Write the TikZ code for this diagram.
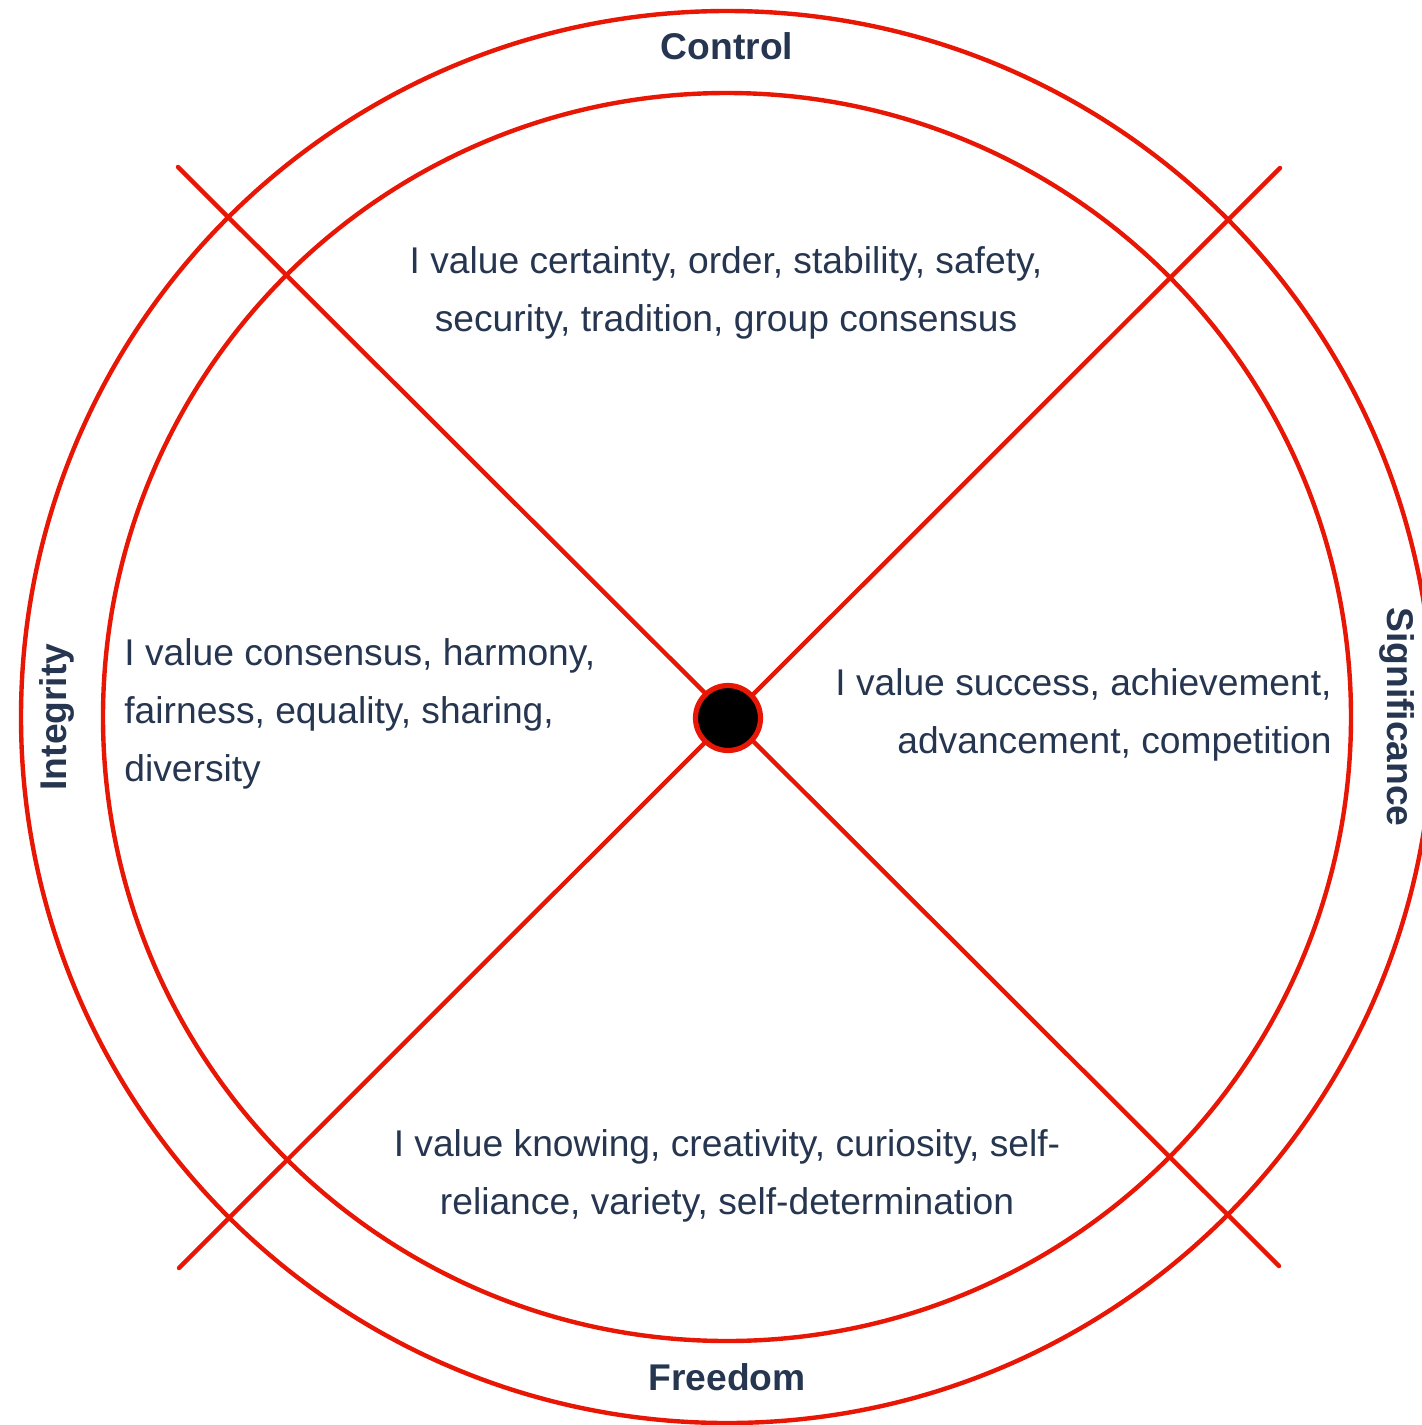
\documentclass[tikz,border=0pt]{standalone}
\usepackage{fontspec}
\setmainfont{Liberation Sans}
\definecolor{ring}{RGB}{232,22,4}
\definecolor{ink}{RGB}{38,54,80}
\begin{document}
\begin{tikzpicture}[x=0.5pt,y=-0.5pt,
  ringline/.style={draw=ring,line width=2.2pt},
  body/.style={text=ink,font=\fontsize{18.6}{29}\selectfont,inner sep=0pt},
  axislabel/.style={text=ink,font=\fontsize{18.6}{22}\selectfont\bfseries,inner sep=0pt}]
\useasboundingbox (0,0) rectangle (1421,1425);
\fill[white] (0,0) rectangle (1421,1425);
\coordinate (c) at (727,717);
\draw[ringline] (c) circle[radius=353pt];
\draw[ringline] (c) circle[radius=312pt];
\coordinate (a1) at (178,167);
\coordinate (a2) at (1279,1266);
\coordinate (b1) at (179,1268);
\coordinate (b2) at (1280,168);
\draw[ringline,line cap=round] (a1) -- (a2);
\draw[ringline,line cap=round] (b1) -- (b2);
\node[circle,fill=black,draw=ring,line width=2.6pt,minimum size=32.5pt,inner sep=0pt] (dot) at (728,718) {};
\node[axislabel] (control) at (727,46) {Control};
\node[axislabel] (freedom) at (727,1377) {Freedom};
\node[axislabel,rotate=90] (integrity) at (57,717) {Integrity};
\node[axislabel,rotate=-90] (signif) at (1397,717) {Significance};
\node[body,align=center] (top) at (726,293) {I value certainty, order, stability, safety,\\security, tradition, group consensus};
\node[body,align=right,anchor=east] (right) at (1332,715) {I value success, achievement,\\advancement, competition};
\node[body,align=left,anchor=west] (left) at (124,714) {I value consensus, harmony,\\fairness, equality, sharing,\\diversity};
\node[body,align=center] (bottom) at (727,1176) {I value knowing, creativity, curiosity, self-\\reliance, variety, self-determination};
\end{tikzpicture}
\end{document}
